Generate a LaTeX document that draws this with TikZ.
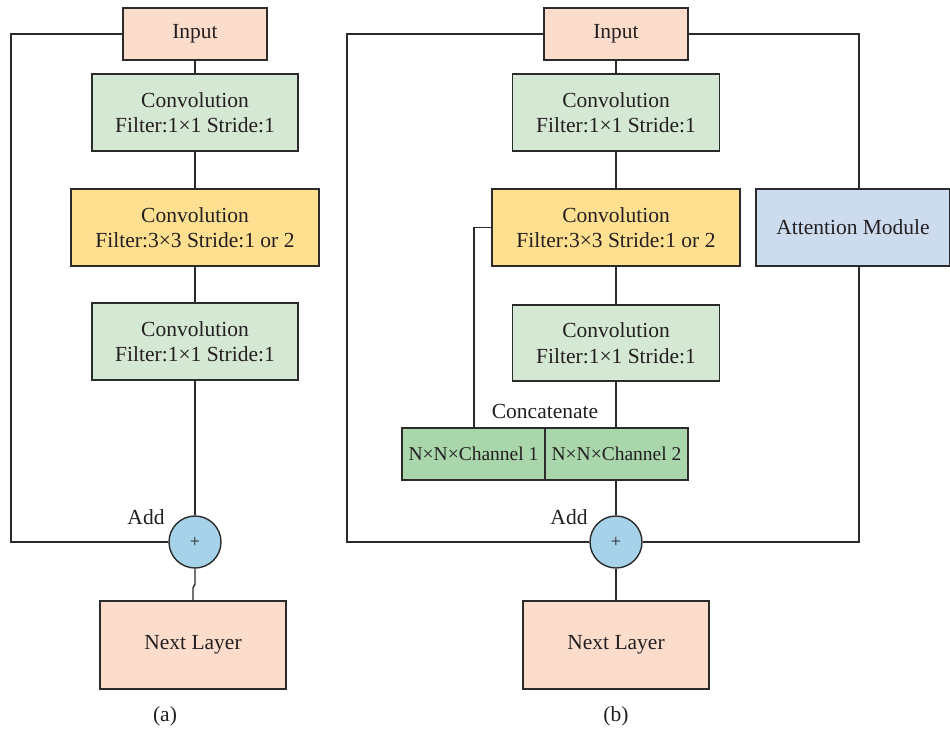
\documentclass[tikz,border=0pt]{standalone}
\usepackage{fontspec}
\setmainfont{Liberation Serif}
\definecolor{peach}{HTML}{FCDCCB}
\definecolor{lgreen}{HTML}{D5E8D4}
\definecolor{yellowc}{HTML}{FFDF90}
\definecolor{attnc}{HTML}{CCDCEE}
\definecolor{chgreen}{HTML}{A9D7AB}
\definecolor{circc}{HTML}{A6D3EA}
\definecolor{linec}{HTML}{2B2B2B}
\definecolor{textc}{HTML}{231F20}
\begin{document}
\begin{tikzpicture}[x=1pt,y=-1pt]
\tikzset{
  box/.style={draw=linec, line width=1.4pt, inner sep=0pt, align=center,
    font=\fontsize{21.5}{25.5}\selectfont, text=textc},
  chbox/.style={box, fill=chgreen, minimum width=143pt, minimum height=52pt,
    font=\fontsize{19.5}{22}\selectfont},
  addc/.style={circle, draw=linec, line width=1.4pt, fill=circc, minimum size=52pt,
    inner sep=0pt, font=\fontsize{18}{20}\selectfont, text=textc},
  lbl/.style={font=\fontsize{21.5}{25}\selectfont, text=textc, inner sep=0pt},
  conn/.style={draw=linec, line width=1.4pt}
}
\useasboundingbox (0,0) rectangle (950,729);
\fill[white] (0,0) rectangle (950,729);

% ---------- panel (a)
\node[box, fill=peach, minimum width=144pt, minimum height=52pt] (ainput) at (195,34) {Input};
\node[box, fill=lgreen, minimum width=206pt, minimum height=77pt] (aconv1) at (195,112.5) {Convolution\\Filter:1×1 Stride:1};
\node[box, fill=yellowc, minimum width=248pt, minimum height=77pt] (aconv2) at (195,227.5) {Convolution\\Filter:3×3 Stride:1 or 2};
\node[box, fill=lgreen, minimum width=206pt, minimum height=77pt] (aconv3) at (195,341.5) {Convolution\\Filter:1×1 Stride:1};
\node[addc] (acirc) at (195,542) {+};
\node[box, fill=peach, minimum width=186pt, minimum height=88pt] (anext) at (193,645) {Next Layer};
\node[lbl] (aadd) at (146,517) {Add};
\node[lbl] (acap) at (165,716) {(a)};

\coordinate (aL1) at (11,34);
\coordinate (aL2) at (11,542);
\coordinate (aJ1) at (195,584);
\coordinate (aJ2) at (193,588);

\draw[conn] (ainput) -- (aconv1);
\draw[conn] (aconv1) -- (aconv2);
\draw[conn] (aconv2) -- (aconv3);
\draw[conn] (aconv3) -- (acirc);
\draw[conn] (ainput.west) -- (aL1) -- (aL2) -- (acirc.west);
\draw[conn] (acirc.south) -- (aJ1) -- (aJ2) -- (anext.north);

% ---------- panel (b)
\node[box, fill=peach, minimum width=144pt, minimum height=52pt] (binput) at (616,34) {Input};
\node[box, fill=lgreen, minimum width=207pt, minimum height=77pt] (bconv1) at (616,112.5) {Convolution\\Filter:1×1 Stride:1};
\node[box, fill=yellowc, minimum width=248pt, minimum height=77pt] (bconv2) at (616,227.5) {Convolution\\Filter:3×3 Stride:1 or 2};
\node[box, fill=lgreen, minimum width=207pt, minimum height=76pt] (bconv3) at (616,343) {Convolution\\Filter:1×1 Stride:1};
\node[chbox] (bch1) at (473.5,454) {N×N×Channel 1};
\node[chbox] (bch2) at (616.5,454) {N×N×Channel 2};
\node[addc] (bcirc) at (616,542) {+};
\node[box, fill=peach, minimum width=186pt, minimum height=88pt] (bnext) at (616,645) {Next Layer};
\node[box, fill=attnc, minimum width=194pt, minimum height=77pt] (battn) at (853,227.5) {Attention Module};
\node[lbl] (bconcat) at (545,411) {Concatenate};
\node[lbl] (badd) at (569,517) {Add};
\node[lbl] (bcap) at (616,716) {(b)};

\coordinate (bL1) at (347,34);
\coordinate (bL2) at (347,542);
\coordinate (bR1) at (859,34);
\coordinate (bR2) at (859,189);
\coordinate (bR3) at (859,266);
\coordinate (bR4) at (859,542);
\coordinate (bC1) at (474,227.5);
\coordinate (bC2) at (474,428);
\coordinate (bT1) at (616,428);
\coordinate (bT2) at (616,480);

\draw[conn] (binput) -- (bconv1);
\draw[conn] (bconv1) -- (bconv2);
\draw[conn] (bconv2) -- (bconv3);
\draw[conn] (bconv3.south) -- (bT1);
\draw[conn] (bT2) -- (bcirc.north);
\draw[conn] (bconv2.west) -- (bC1) -- (bC2);
\draw[conn] (binput.west) -- (bL1) -- (bL2) -- (bcirc.west);
\draw[conn] (binput.east) -- (bR1) -- (bR2);
\draw[conn] (bR3) -- (bR4) -- (bcirc.east);
\draw[conn] (bcirc) -- (bnext);
\end{tikzpicture}
\end{document}
